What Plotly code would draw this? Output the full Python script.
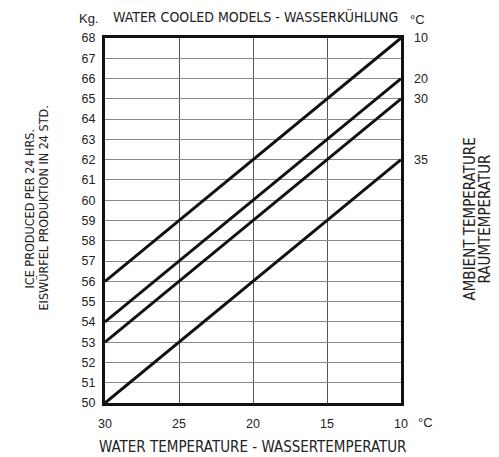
import plotly.graph_objects as go

water_temp = [30, 10]
ambient_labels = ["10", "20", "30", "35"]
ice_10 = [56, 68]
ice_20 = [54, 66]
ice_30 = [53, 65]
ice_35 = [50, 62]
series = [ice_10, ice_20, ice_30, ice_35]

y_ticks = list(range(50, 69))
x_ticks = [30, 25, 20, 15, 10]

FONT = "Liberation Sans Narrow, DejaVu Sans Condensed, Liberation Sans, Arial"
NUMFONT = "Liberation Sans, Arial"
TXT = "#222222"

fig = go.Figure()
for vals in series:
    fig.add_trace(go.Scatter(x=water_temp, y=vals, mode="lines",
                             line=dict(color="#111111", width=3), showlegend=False,
                             hoverinfo="skip"))

fig.update_xaxes(range=[30, 10], tickvals=x_ticks, ticktext=[str(v) for v in x_ticks],
                 showgrid=True, gridcolor="#555555", gridwidth=1,
                 showline=True, linecolor="#111111", linewidth=3, mirror=True,
                 ticks="", zeroline=False, ticklabelstandoff=7,
                 tickfont=dict(family=NUMFONT, size=12.5, color=TXT))
fig.update_yaxes(range=[50, 68], tickvals=y_ticks,
                 showgrid=True, gridcolor="#888888", gridwidth=1,
                 showline=True, linecolor="#111111", linewidth=3, mirror=True,
                 ticks="", zeroline=False, ticklabelstandoff=4,
                 tickfont=dict(family=NUMFONT, size=12.5, color=TXT))


def note(text, x, y, xs, ys, size, family=FONT, xref="paper", yref="paper",
         xanchor="center", yanchor="middle", angle=0):
    return dict(text=text, xref=xref, yref=yref, x=x, y=y, xshift=xs, yshift=ys,
                xanchor=xanchor, yanchor=yanchor, textangle=angle, showarrow=False,
                font=dict(family=family, size=size, color=TXT))


ann = [
    note("WATER COOLED MODELS - WASSERKÜHLUNG", 0.5, 1, 2, 22, 14),
    note("Kg.", 0, 1, -16, 20, 13, NUMFONT),
    note("°C", 1, 1, 16, 19, 13, NUMFONT),
    note("°C", 1, 0, 24, -19, 13, NUMFONT),
    note("WATER TEMPERATURE - WASSERTEMPERATUR", 0.5, 0, -1, -44, 15),
    note("ICE PRODUCED PER 24 HRS.", 0, 0.5, -76, 12, 12.5, angle=-90),
    note("EISWÜRFEL PRODUKTION IN 24 STD.", 0, 0.5, -63, 12, 12.5, angle=-90),
    note("AMBIENT TEMPERATURE", 1, 0.5, 68, 1, 15, angle=-90),
    note("RAUMTEMPERATUR", 1, 0.5, 83, 1, 15, angle=-90),
]
for lab, vals in zip(ambient_labels, series):
    ann.append(note(lab, 1, vals[-1], 11, 0, 12.5, NUMFONT, yref="y", xanchor="left"))

fig.update_layout(width=491, height=449, margin=dict(l=97, r=98, t=30, b=54),
                  paper_bgcolor="white", plot_bgcolor="white", annotations=ann)

fig.write_html("out.html")
